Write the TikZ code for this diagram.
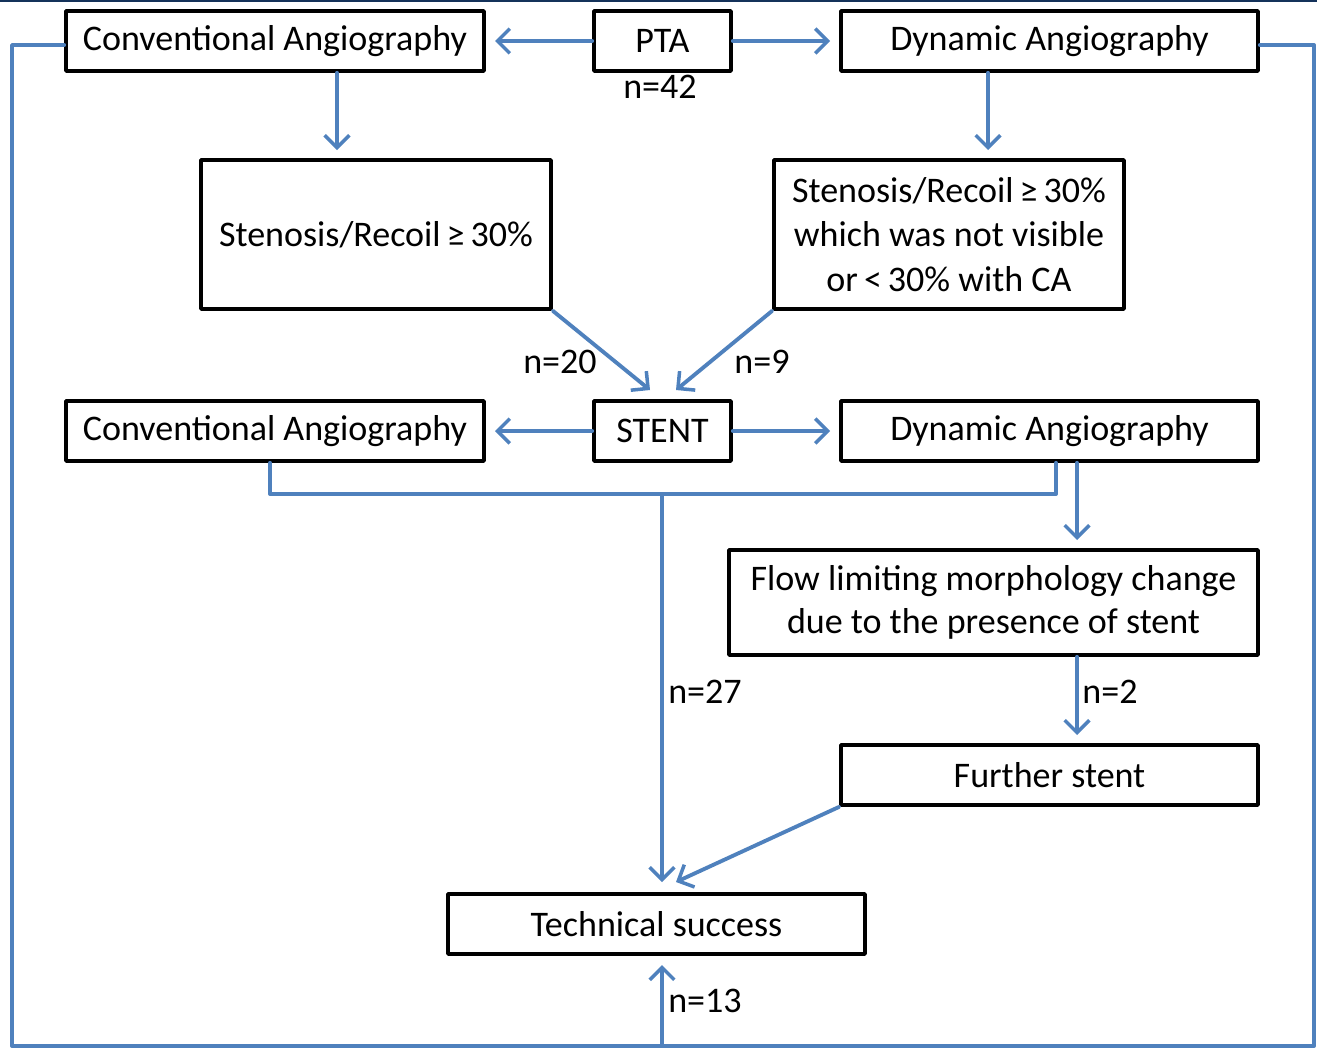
\documentclass[tikz,border=0pt]{standalone}
\usepackage{fontspec}
\setmainfont{Carlito}
\usepackage{tikz}
\usetikzlibrary{arrows.meta}

\definecolor{flowblue}{RGB}{79,129,189}
\definecolor{topnavy}{RGB}{20,50,90}

\begin{document}
\begin{tikzpicture}[x=0.02cm,y=-0.02cm,line cap=round,line join=round,
    >={Straight Barb[length=7pt,width=14pt,line width=2pt]},
    font=\fontsize{20.5}{24.5}\selectfont,
    box/.style={draw=black,line width=2.1pt,fill=white,align=center,inner sep=0pt},
    link/.style={draw=flowblue,line width=2.2pt},
    lbl/.style={inner sep=0pt}]
    \useasboundingbox (0,0) rectangle (1317,1052);
    \draw[topnavy,line width=1.2pt] (0,1) -- (1317,1) coordinate (topright);

    % boxes
    \node[box,minimum width=418*0.02cm,minimum height=60*0.02cm] (ca1) at (275,41) {Conventional Angiography};
    \node[box,minimum width=137*0.02cm,minimum height=60*0.02cm] (pta) at (662.5,41) {PTA};
    \node[box,minimum width=417*0.02cm,minimum height=60*0.02cm] (da1) at (1049.5,41) {Dynamic Angiography};
    \node[box,minimum width=350*0.02cm,minimum height=149*0.02cm] (sten1) at (376,234.5) {Stenosis/Recoil\,≥\,30\%};
    \node[box,minimum width=350*0.02cm,minimum height=149*0.02cm] (sten2) at (949,234.5) {Stenosis/Recoil\,≥\,30\%\\[1pt] which was not visible\\[1pt] or\,<\,30\% with CA};
    \node[box,minimum width=418*0.02cm,minimum height=60*0.02cm] (ca2) at (275,431) {Conventional Angiography};
    \node[box,minimum width=137*0.02cm,minimum height=60*0.02cm] (stent) at (662.5,431) {STENT};
    \node[box,minimum width=417*0.02cm,minimum height=60*0.02cm] (da2) at (1049.5,431) {Dynamic Angiography};
    \node[box,minimum width=529*0.02cm,minimum height=105*0.02cm] (flow) at (993.5,602.5) {Flow limiting morphology change\\[0pt] due to the presence of stent};
    \node[box,minimum width=417*0.02cm,minimum height=60*0.02cm] (further) at (1049.5,775) {Further stent};
    \node[box,minimum width=417*0.02cm,minimum height=60*0.02cm] (success) at (656.5,924) {Technical success};

    % counts
    \node[lbl] (n42) at (660,87) {n=42};
    \node[lbl] (n20) at (560,362) {n=20};
    \node[lbl] (n9) at (762,362) {n=9};
    \node[lbl] (n27) at (705,692) {n=27};
    \node[lbl] (n2) at (1110,692) {n=2};
    \node[lbl] (n13) at (705,1001) {n=13};

    % connectors
    \coordinate (caleft) at (495,41);
    \coordinate (daright) at (830,41);
    \draw[link,->] (pta.west) -- (caleft);
    \draw[link,->] (pta.east) -- (daright);
    \draw[link,->] (ca1.south -| 337,0) -- (337,150) coordinate (sten1top);
    \draw[link,->] (da1.south -| 988,0) -- (988,150) coordinate (sten2top);
    \draw[link,->] (sten1.south east) -- (650,390) coordinate (stentl);
    \draw[link,->] (sten2.south west) -- (676,390) coordinate (stentr);
    \draw[link,->] (stent.west) -- (495,431) coordinate (ca2right);
    \draw[link,->] (stent.east) -- (830,431) coordinate (da2left);
    \draw[link] (ca2.south -| 270,0) -- (270,494) -- (1056,494) -- (da2.south -| 1056,0);
    \draw[link,->] (662,494) coordinate (join) -- (662,882) coordinate (succtop);
    \draw[link,->] (da2.south -| 1077,0) -- (1077,540) coordinate (flowtop);
    \draw[link,->] (flow.south -| 1077,0) -- (1077,735) coordinate (furthertop);
    \draw[link,->] (further.south west) -- (676,882) coordinate (succtopr);
    \draw[link] (ca1.west |- 0,45) -- (12,45) -- (12,1046) -- (1314,1046) -- (1314,45) -- (da1.east |- 0,45);
    \draw[link,->] (662,1046) coordinate (loopbase) -- (662,965) coordinate (succbottom);
  \end{tikzpicture}
\end{document}
